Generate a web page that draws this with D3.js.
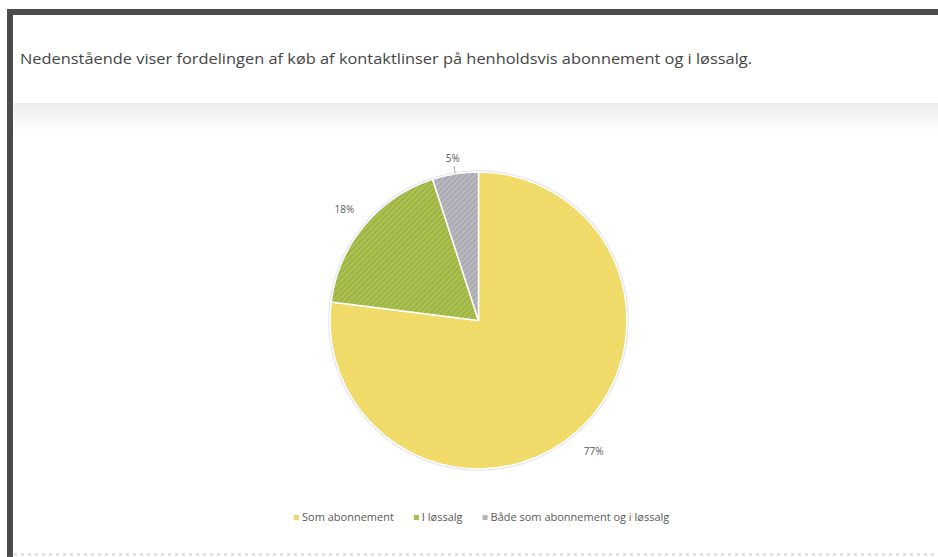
<!DOCTYPE html>
<html>
<head>
<meta charset="utf-8">
<script src="https://cdn.jsdelivr.net/npm/d3@7"></script>
<style>
  html, body { margin: 0; padding: 0; background: #fff; }
  svg { display: block; }
</style>
</head>
<body>
<svg id="chart"></svg>
<script>
const title = "Nedenstående viser fordelingen af køb af kontaktlinser på henholdsvis abonnement og i løssalg.";
const categories = ["Som abonnement", "I løssalg", "Både som abonnement og i løssalg"];
const values = [77, 18, 5];
const valueLabels = ["77%", "18%", "5%"];

const width = 938;
const height = 557;
const cx = 478.5, cy = 320.5, radius = 148.5;

const svg = d3.select("#chart")
  .attr("width", width)
  .attr("height", height);

const defs = svg.append("defs");

// soft grey band under the heading box
const grad = defs.append("linearGradient")
  .attr("id", "band").attr("x1", 0).attr("x2", 0).attr("y1", 0).attr("y2", 1);
grad.append("stop").attr("offset", "0%").attr("stop-color", "#ececec");
grad.append("stop").attr("offset", "30%").attr("stop-color", "#f1f1f1");
grad.append("stop").attr("offset", "100%").attr("stop-color", "#ffffff");

// hatch fills like the Excel texture
function hatch(id, base, line) {
  const p = defs.append("pattern")
    .attr("id", id)
    .attr("patternUnits", "userSpaceOnUse")
    .attr("width", 4).attr("height", 4)
    .attr("patternTransform", "rotate(45)");
  p.append("rect").attr("width", 4).attr("height", 4).attr("fill", base);
  p.append("rect").attr("width", 1.3).attr("height", 4).attr("fill", line);
}
hatch("hYellow", "#f2dd6c", "#eed866");
hatch("hGreen", "#abc152", "#97ad3e");
hatch("hGrey", "#b8b8bf", "#a3a3ab");

const color = d3.scaleOrdinal()
  .domain(categories)
  .range(["url(#hYellow)", "url(#hGreen)", "url(#hGrey)"]);
const swatch = d3.scaleOrdinal()
  .domain(categories)
  .range(["#f0d96a", "#a8be4e", "#b4b4bc"]);

// page frame
svg.append("rect").attr("x", 14).attr("y", 103).attr("width", width - 14).attr("height", 28)
  .attr("fill", "url(#band)");
svg.append("rect").attr("x", 7).attr("y", 9).attr("width", width - 7).attr("height", 6)
  .attr("fill", "#4b4b4b");
svg.append("rect").attr("x", 7).attr("y", 9).attr("width", 6).attr("height", height - 9)
  .attr("fill", "#4b4b4b");
svg.append("line").attr("x1", 14).attr("x2", width).attr("y1", 554.5).attr("y2", 554.5)
  .attr("stroke", "#d4d4d4").attr("stroke-width", 2).attr("stroke-dasharray", "3,4");

svg.append("text")
  .attr("x", 20).attr("y", 64)
  .attr("font-family", "'Open Sans', sans-serif")
  .attr("font-size", 14.5)
  .attr("fill", "#454545")
  .attr("textLength", 732)
  .attr("lengthAdjust", "spacingAndGlyphs")
  .text(title);

// pie
const data = categories.map((c, i) => ({ category: c, value: values[i], label: valueLabels[i] }));
const pie = d3.pie().sort(null).value(d => d.value);
const arcs = pie(data);
const arc = d3.arc().innerRadius(0).outerRadius(radius);

const g = svg.append("g").attr("transform", `translate(${cx},${cy})`);

g.append("circle").attr("r", radius + 1).attr("fill", "none")
  .attr("stroke", "#e2e0ee").attr("stroke-width", 1.5);

g.selectAll("path.slice")
  .data(arcs)
  .enter().append("path")
  .attr("class", "slice")
  .attr("d", arc)
  .attr("fill", d => color(d.data.category))
  .attr("stroke", "#fff")
  .attr("stroke-width", 1.5)
  .attr("stroke-linejoin", "round");

// data labels, small slices get a short leader line
const labelArc = d3.arc().innerRadius(174).outerRadius(174);
const nearArc = d3.arc().innerRadius(164).outerRadius(164);
arcs.forEach(d => {
  const small = d.data.value < 10;
  const pos = small ? nearArc.centroid(d) : labelArc.centroid(d);
  if (small) {
    const mid = (d.startAngle + d.endAngle) / 2;
    g.append("line")
      .attr("x1", Math.sin(mid) * (radius + 1)).attr("y1", -Math.cos(mid) * (radius + 1))
      .attr("x2", Math.sin(mid) * (radius + 8)).attr("y2", -Math.cos(mid) * (radius + 8))
      .attr("stroke", "#a6a6a6").attr("stroke-width", 1);
  }
  g.append("text")
    .attr("x", pos[0]).attr("y", pos[1])
    .attr("dy", "0.35em")
    .attr("text-anchor", "middle")
    .attr("font-family", "'Open Sans', sans-serif")
    .attr("font-size", 10)
    .attr("fill", "#595959")
    .text(d.data.label);
});

// legend
const legend = svg.append("g").attr("transform", "translate(294,521)");
let lx = 0;
categories.forEach(c => {
  const item = legend.append("g").attr("transform", `translate(${lx},0)`);
  item.append("rect").attr("x", 0).attr("y", -6).attr("width", 5).attr("height", 5)
    .attr("fill", swatch(c));
  const t = item.append("text")
    .attr("x", 8).attr("y", 0)
    .attr("font-family", "'Open Sans', sans-serif")
    .attr("font-size", 11)
    .attr("fill", "#595959")
    .text(c);
  lx += 8 + t.node().getComputedTextLength() + 20;
});
</script>
</body>
</html>
